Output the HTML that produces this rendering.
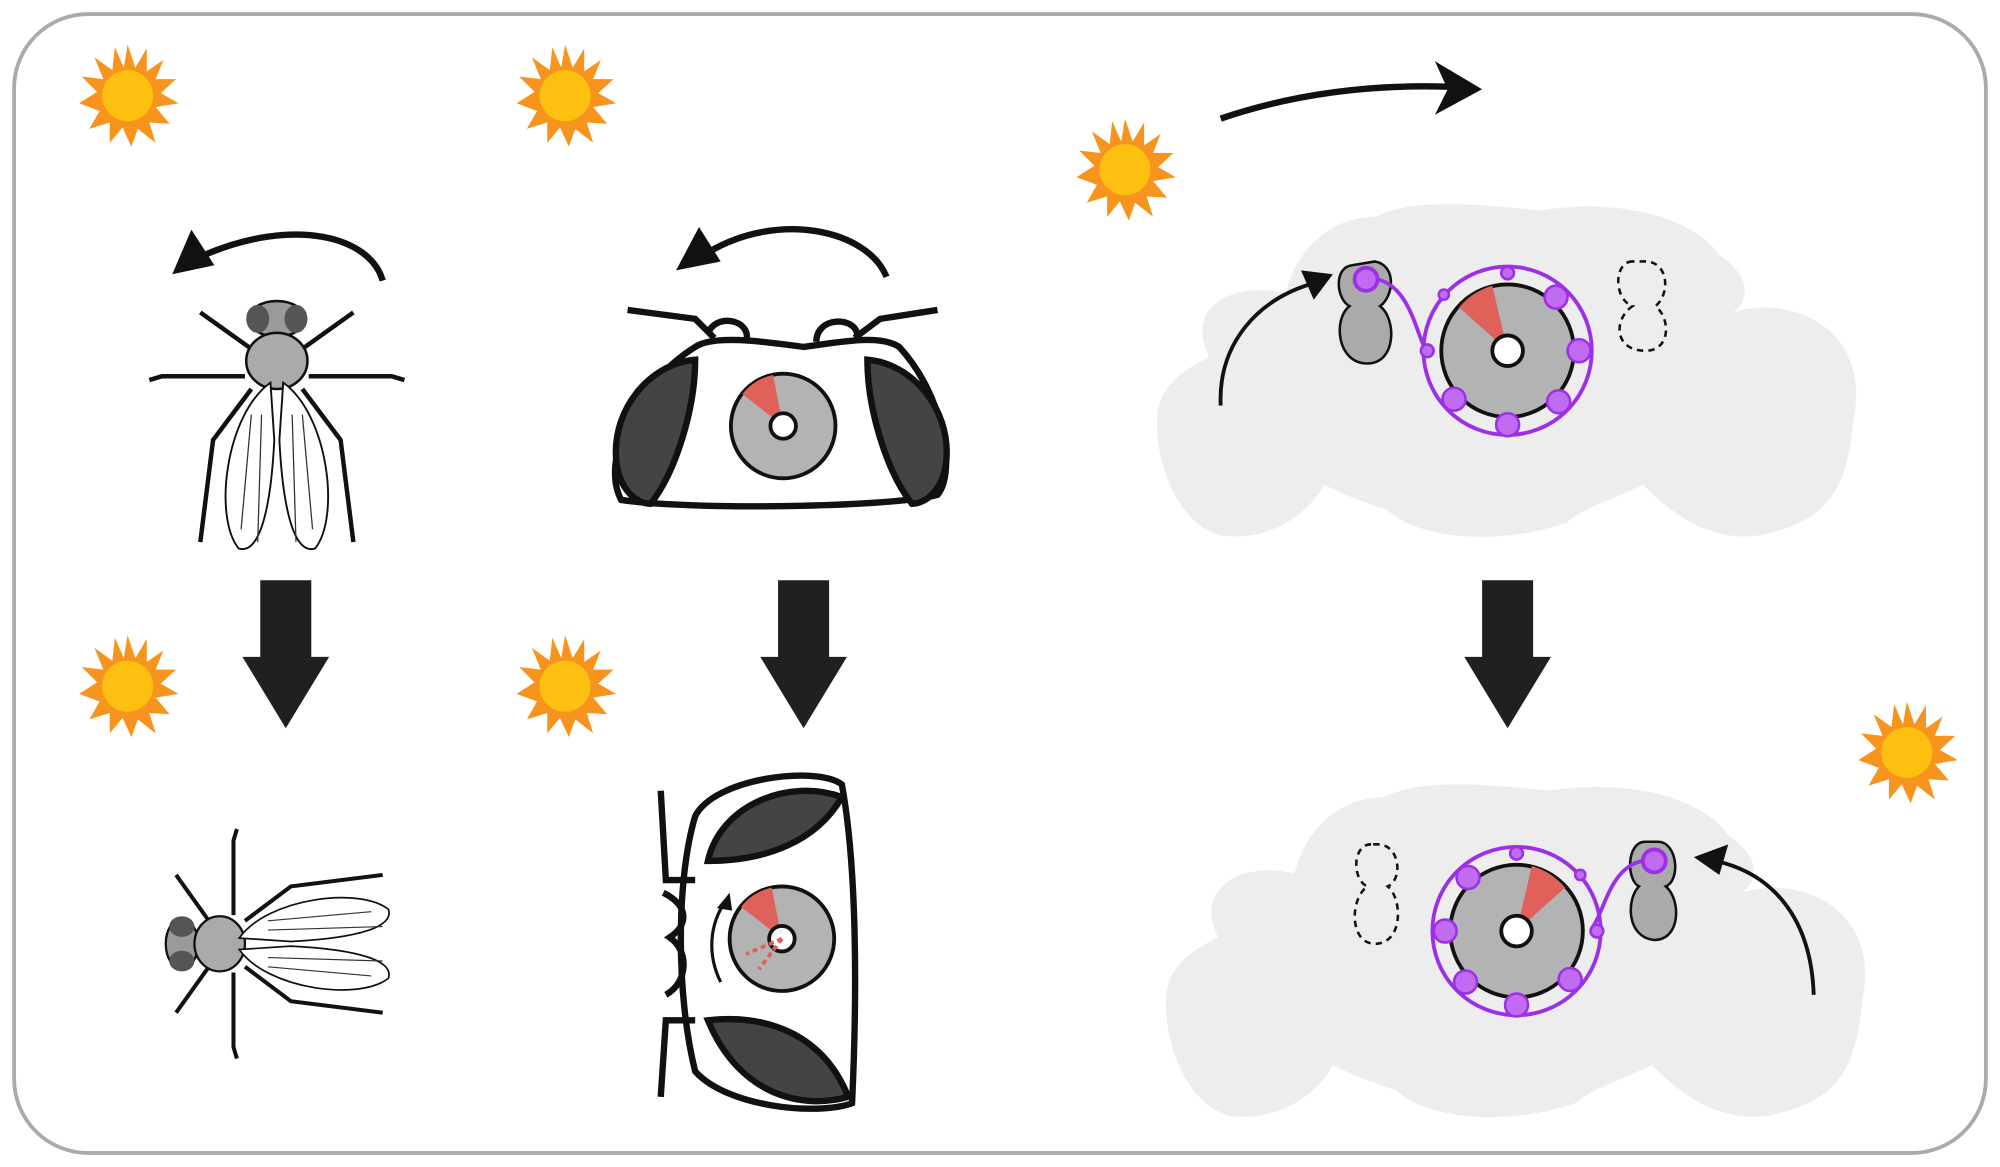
<!DOCTYPE html>
<html><head><style>html,body{margin:0;padding:0;background:#fff}svg{display:block}</style></head>
<body>
<svg width="2000" height="1167" viewBox="0 0 1568 915" xmlns="http://www.w3.org/2000/svg">
<defs>
 <g id="sun">
  <polygon points="0,-40 6,-22 15,-37 15,-19 28,-28 22,-13 38,-13 26,-2 40,6 22,9 33,22 17,21 22,37 8,26 3,40 -4,25 -14,37 -14,21 -30,26 -22,12 -38,6 -24,-3 -36,-15 -19,-13 -26,-30 -12,-20 -10,-38 -3,-22" fill="#f7941d"/>
  <circle r="20" fill="#fdc010"/>
 </g>
 <g id="down"><polygon points="-20,0 20,0 20,60 34,60 0,116 -34,60 -20,60" fill="#221f1f"/></g>
 <g id="disc">
  <circle r="41" fill="#b3b3b3" stroke="#111" stroke-width="3"/>
  <path d="M0,0 L-32,-25 A41,41 0 0 1 -8,-40 Z" fill="#e0605a"/>
  <circle r="10" fill="#fff" stroke="#111" stroke-width="3"/>
 </g>
 <g id="ring">
  <circle r="66" fill="none" stroke="#9b30e6" stroke-width="3"/>
  <circle r="52" fill="#b3b3b3" stroke="#111" stroke-width="3"/>
  <path d="M0,0 L-38,-34 A52,52 0 0 1 -12,-51 Z" fill="#e0605a"/>
  <circle r="12" fill="#fff" stroke="#111" stroke-width="3"/>
  <g fill="#c16cf0" stroke="#9b30e6" stroke-width="2">
   <circle cx="38" cy="-42" r="9"/><circle cx="56" cy="0" r="9"/><circle cx="40" cy="40" r="9"/>
   <circle cx="0" cy="58" r="9"/><circle cx="-42" cy="38" r="9"/><circle cx="0" cy="-61" r="5"/>
   <circle cx="-50" cy="-44" r="4"/><circle cx="-63" cy="0" r="5"/>
  </g>
 </g>
 <path id="brain" d="M40,130 C20,90 60,70 100,80 C110,40 140,20 170,20 C200,5 250,10 300,15 C360,5 420,20 440,50 C470,70 460,90 450,95 C500,80 560,110 545,180 C540,240 520,260 470,270 C430,275 400,250 380,230 C360,240 330,250 320,260 C260,280 200,270 180,250 C150,240 140,235 130,230 C120,250 90,275 50,270 C10,260 -5,200 0,170 C5,150 20,140 40,130Z" fill="#ededed"/>
 <g id="fly">
  <g stroke="#111" stroke-width="3.5" fill="none">
   <path d="M-18,-70 L-60,-100 M18,-70 L60,-100 M-25,-50 L-90,-50 L-100,-47 M25,-50 L90,-50 L100,-47 M-20,-40 L-50,0 L-60,80 M20,-40 L50,0 L60,80"/>
  </g>
  <ellipse cx="0" cy="-95" rx="22" ry="14" fill="#9a9a9a" stroke="#111" stroke-width="2"/>
  <ellipse cx="-15" cy="-95" rx="9" ry="11" fill="#555"/><ellipse cx="15" cy="-95" rx="9" ry="11" fill="#555"/>
  <ellipse cx="0" cy="-62" rx="24" ry="22" fill="#aaa" stroke="#111" stroke-width="2"/>
  <path d="M-5,-45 C-40,-20 -50,60 -30,85 C-15,90 -5,60 -2,0Z" fill="#fff" stroke="#111" stroke-width="1.5"/>
  <path d="M5,-45 C40,-20 50,60 30,85 C15,90 5,60 2,0Z" fill="#fff" stroke="#111" stroke-width="1.5"/>
  <path d="M-20,-20 L-28,70 M-12,-20 L-15,80 M20,-20 L28,70 M12,-20 L15,80" stroke="#333" stroke-width="1"/>
 </g>
</defs>

<rect x="11" y="11" width="1546" height="893" rx="58" fill="#fff" stroke="#aaa" stroke-width="3"/>

<use href="#sun" x="100" y="75"/><use href="#sun" x="443" y="75"/><use href="#sun" x="882" y="133"/>
<use href="#sun" x="100" y="538"/><use href="#sun" x="443" y="538"/><use href="#sun" x="1495" y="590"/>

<g fill="none" stroke="#111" stroke-width="5">
 <path d="M300,220 C290,185 230,170 160,200"/>
 <path d="M695,217 C680,180 610,165 555,198"/>
 <path d="M957,93 C1010,75 1070,66 1135,68"/>
</g>
<polygon points="135,215 150,180 168,208" fill="#111"/>
<polygon points="530,212 548,178 565,205" fill="#111"/>
<polygon points="1162,70 1125,48 1135,70 1125,90" fill="#111"/>

<use href="#down" x="224" y="455"/><use href="#down" x="630" y="455"/><use href="#down" x="1182" y="455"/>

<use href="#fly" x="217" y="345"/>
<g transform="translate(228,740) rotate(-90) scale(0.9)"><use href="#fly"/></g>

<g stroke="#111" stroke-width="5">
 <path d="M545,272 C560,262 600,268 630,272 C660,268 690,262 705,272 C740,310 750,370 735,388 C700,398 540,400 487,392 C470,360 500,300 545,272Z" fill="#fff"/>
 <path d="M545,282 C510,285 480,320 483,360 C485,385 500,395 510,395 C530,370 545,320 545,282Z" fill="#444"/>
 <path d="M680,282 C715,285 745,320 742,360 C740,385 725,395 715,395 C695,370 680,320 680,282Z" fill="#444"/>
 <path d="M492,243 L545,250 L560,265 M735,243 L690,250 L670,265" fill="none"/>
 <path d="M555,262 C560,245 590,250 585,268 M640,268 C640,248 670,248 672,262" fill="none"/>
</g>
<use href="#disc" x="614" y="334"/>

<g stroke="#111" stroke-width="5">
 <path d="M545,640 C560,610 640,600 660,615 C672,680 672,780 668,865 C640,875 570,868 545,840 C530,780 530,690 545,640Z" fill="#fff"/>
 <path d="M555,675 C565,630 620,610 660,625 C640,660 600,675 555,675Z" fill="#444"/>
 <path d="M555,800 C600,795 645,810 665,860 C630,870 580,860 555,800Z" fill="#444"/>
 <path d="M518,620 L522,690 L545,690 M518,860 L522,800 L545,800 M520,700 C540,710 540,725 525,735 C540,745 540,770 522,780" fill="none"/>
</g>
<use href="#disc" x="613" y="736"/>
<path d="M565,770 C555,750 555,725 570,705" fill="none" stroke="#111" stroke-width="2.5"/>
<polygon points="572,700 562,712 574,714" fill="#111"/>
<path d="M613,736 L595,760 M613,736 L585,748" stroke="#e0605a" stroke-width="3" stroke-dasharray="4,3"/>

<use href="#brain" x="908" y="150"/>
<path d="M1060,208 C1045,210 1048,235 1058,240 C1045,250 1048,285 1072,285 C1095,285 1095,250 1082,240 C1093,232 1095,208 1078,205Z" fill="#aaa" stroke="#111" stroke-width="2"/>
<circle cx="1071" cy="219" r="9" fill="#c16cf0" stroke="#9b30e6" stroke-width="3"/>
<path d="M1080,219 C1105,225 1110,260 1118,275" fill="none" stroke="#9b30e6" stroke-width="3"/>
<path d="M1280,205 C1265,205 1265,235 1280,240 C1265,250 1265,275 1290,275 C1310,275 1310,250 1298,240 C1310,230 1308,205 1290,205Z" fill="none" stroke="#111" stroke-width="2" stroke-dasharray="5,4"/>
<use href="#ring" x="1182" y="275"/>
<path d="M957,318 C955,270 985,235 1030,222" fill="none" stroke="#111" stroke-width="3"/>
<polygon points="1045,215 1020,212 1030,235" fill="#111"/>

<use href="#brain" x="915" y="605"/>
<path d="M1290,660 C1275,660 1275,690 1285,695 C1275,705 1275,735 1297,737 C1318,737 1318,705 1306,695 C1318,690 1315,660 1300,660Z" fill="#aaa" stroke="#111" stroke-width="2"/>
<circle cx="1297" cy="675" r="9" fill="#c16cf0" stroke="#9b30e6" stroke-width="3"/>
<path d="M1288,675 C1262,680 1258,715 1248,728" fill="none" stroke="#9b30e6" stroke-width="3"/>
<path d="M1075,662 C1060,662 1060,690 1072,695 C1058,705 1058,740 1078,740 C1100,740 1100,705 1088,695 C1100,690 1098,662 1080,662Z" fill="none" stroke="#111" stroke-width="2" stroke-dasharray="5,4"/>
<g transform="translate(1189,730) scale(-1,1)"><use href="#ring"/></g>
<path d="M1422,780 C1420,720 1390,685 1345,675" fill="none" stroke="#111" stroke-width="3"/>
<polygon points="1328,672 1355,662 1348,686" fill="#111"/>
</svg>
</body></html>
